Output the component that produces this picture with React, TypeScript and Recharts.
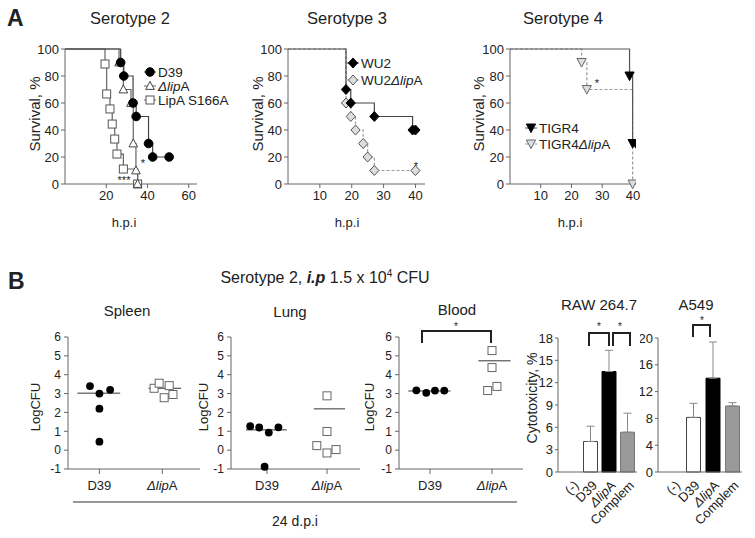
import React from "react";
import {
  LineChart, Line, XAxis, YAxis, ScatterChart, Scatter, ReferenceLine,
  BarChart, Bar, ErrorBar, Cell,
} from "recharts";

const FONT = '"Liberation Sans", Arial, sans-serif';
const AXIS = "#666";
const TXT = "#222";

// ---- A: survival (h.p.i, %) ----
const d39Time = [0, 27, 28.5, 33, 34.5, 40.5, 42.5, 50.5];
const d39Surv = [100, 90, 80, 60, 50, 30, 20, 20];
const lipTime = [0, 26.2, 28.3, 32, 33.1, 34.4, 35.2];
const lipSurv = [100, 90, 70, 60, 30, 10, 0];
const s166Time = [0, 19.4, 20.2, 21.8, 22.9, 24.1, 25.2, 28.3, 35.2];
const s166Surv = [100, 88.9, 66.7, 55.6, 44.4, 33.3, 22.2, 11.1, 0];

const wu2Time = [0, 18.2, 19.7, 27.1, 39.1, 40];
const wu2Surv = [100, 70, 60, 50, 40, 40];
const wu2LipTime = [0, 18.2, 19.7, 21.2, 23.6, 25, 27.1, 40];
const wu2LipSurv = [100, 60, 50, 40, 30, 20, 10, 10];

const tigrTime = [0, 38.9, 39.9, 40.9];
const tigrSurv = [100, 80, 30, 30];
const tigrLipTime = [0, 23.3, 25, 39.9];
const tigrLipSurv = [100, 90, 70, 0];

const survTicks = [0, 20, 40, 60, 80, 100];

// ---- B: organ burden (LogCFU) ----
const strains = ["D39", "ΔlipA"];
const spleenD39 = [3.4, 3.0, 3.2, 2.2, 0.45];
const spleenLip = [3.28, 3.55, 3.42, 2.78, 2.95];
const lungD39 = [1.27, 1.2, 0.93, 1.21, -0.88];
const lungLip = [2.88, 0.99, 0.24, -0.15, 0.03];
const bloodD39 = [3.17, 3.04, 3.16, 3.16];
const bloodLip = [5.28, 4.38, 3.16, 3.38];
// horizontal jitter of the dots (layout only)
const spleenD39Jit = [-0.15, 0, 0.17, 0, 0];
const spleenLipJit = [-0.13, -0.05, 0.11, 0.03, 0.17];
const lungD39Jit = [-0.28, -0.13, 0.03, 0.19, -0.04];
const lungLipJit = [0, 0, -0.17, 0, 0.15];
const bloodD39Jit = [-0.22, -0.06, 0.08, 0.23];
const bloodLipJit = [0, 0, -0.07, 0.08];
const cfuTicks = [-1, 0, 1, 2, 3, 4, 5, 6];

// ---- B: cytotoxicity (%) ----
const cytoCats = ["(-)", "D39", "ΔlipA", "Complem"];
const rawMean = [0, 4.1, 13.5, 5.35];
const rawErr = [2.85, 2.05, 2.85, 2.55];
const a549Mean = [0, 8.15, 14, 9.85];
const a549Err = [2.4, 2.1, 5.4, 0.5];
const rawTicks = [0, 3, 6, 9, 12, 15, 18];
const a549Ticks = [0, 4, 8, 12, 16, 20];

const series = (t: number[], s: number[]) => t.map((x, i) => ({ t: x, s: s[i] }));
const points = (v: number[], jit: number[], g: number) => v.map((y, i) => ({ x: g + jit[i], y }));
const logMean = (v: number[]) => Math.log10(v.reduce((a, x) => a + Math.pow(10, x), 0) / v.length);
const bars = (m: number[], e: number[]) => cytoCats.map((c, i) => ({ c, v: m[i], e: [0, e[i]] }));

function StrainText({ label }: { label: string }) {
  if (!label.includes("lip")) return <>{label}</>;
  const [pre, post] = label.split("Δlip");
  return (
    <>
      {pre}
      <tspan fontStyle="italic">Δlip</tspan>
      {post}
    </>
  );
}

function Mark({ kind, cx, cy, fill, stroke }: any) {
  const p = { fill, stroke, strokeWidth: 1 };
  if (kind === "circle") return <circle cx={cx} cy={cy} r={4.3} {...p} />;
  if (kind === "tri") return <path d={`M${cx},${cy - 4.6}L${cx + 4.3},${cy + 3.4}L${cx - 4.3},${cy + 3.4}Z`} {...p} />;
  if (kind === "square") return <rect x={cx - 4} y={cy - 4} width={8} height={8} {...p} />;
  if (kind === "diamond") return <path d={`M${cx},${cy - 5}L${cx + 4.6},${cy}L${cx},${cy + 5}L${cx - 4.6},${cy}Z`} {...p} />;
  return <path d={`M${cx - 4.6},${cy - 4}L${cx + 4.6},${cy - 4}L${cx},${cy + 4.6}Z`} {...p} />;
}

type Curve = { data: { t: number; s: number }[]; color: string; dash?: string; kind: string; fill: string; stroke: string };

function Survival({ left, top, width, margin, domain, ticks, curves }: any) {
  return (
    <div style={{ position: "absolute", left, top }}>
      <LineChart width={width} height={200} margin={margin}>
        <XAxis type="number" dataKey="t" domain={domain} ticks={ticks} allowDataOverflow interval={0}
          stroke={AXIS} tickSize={4} tickMargin={3} height={30}
          tick={{ fill: TXT, fontSize: 13, fontFamily: FONT }} />
        <YAxis type="number" domain={[0, 100]} ticks={survTicks} width={40} interval={0}
          stroke={AXIS} tickSize={4} tickMargin={2}
          tick={{ fill: TXT, fontSize: 13, fontFamily: FONT }} />
        {curves.map((c: Curve, k: number) => (
          <Line key={k} data={c.data} dataKey="s" type="stepAfter" stroke={c.color}
            strokeWidth={1.2} strokeDasharray={c.dash} isAnimationActive={false} activeDot={false}
            dot={(p: any) =>
              p.index === 0 ? <g key={`d${p.index}`} /> :
                <Mark key={`d${p.index}`} kind={c.kind} cx={p.cx} cy={p.cy} fill={c.fill} stroke={c.stroke} />} />
        ))}
      </LineChart>
    </div>
  );
}

function StrainTick({ x, y, payload }: any) {
  return (
    <text x={x} y={y + 14} textAnchor="middle" fontSize={13} fontFamily={FONT} fill={TXT}>
      <StrainText label={strains[payload.value - 1]} />
    </text>
  );
}

function Organ({ left, width, ml, mr, domain, d39, lip, d39Jit, lipJit }: any) {
  const m1 = logMean(d39);
  const m2 = logMean(lip);
  return (
    <div style={{ position: "absolute", left, top: 320 }}>
      <ScatterChart width={width} height={180} margin={{ top: 17, right: mr, bottom: 1, left: ml }}>
        <XAxis type="number" dataKey="x" domain={domain} ticks={[1, 2]} allowDataOverflow interval={0}
          stroke={AXIS} tickSize={5} height={30} tick={<StrainTick />} />
        <YAxis type="number" dataKey="y" domain={[-1, 6]} ticks={cfuTicks} width={30} interval={0}
          stroke={AXIS} tickSize={4} tickMargin={3}
          tick={{ fill: TXT, fontSize: 12, fontFamily: FONT }} />
        <ReferenceLine segment={[{ x: 0.65, y: m1 }, { x: 1.33, y: m1 }]} stroke="#333" />
        <ReferenceLine segment={[{ x: 1.78, y: m2 }, { x: 2.3, y: m2 }]} stroke="#333" />
        <Scatter data={points(d39, d39Jit, 1)} isAnimationActive={false}
          shape={(p: any) => <circle cx={p.cx} cy={p.cy} r={3.9} fill="#000" />} />
        <Scatter data={points(lip, lipJit, 2)} isAnimationActive={false}
          shape={(p: any) => <rect x={p.cx - 4} y={p.cy - 4} width={8} height={8} fill="#fff" stroke="#666" />} />
      </ScatterChart>
    </div>
  );
}

function CatTick({ x, y, payload }: any) {
  return (
    <g transform={`translate(${x + 4},${y + 3})`}>
      <text transform="rotate(-45)" textAnchor="end" dy="0.35em" fontSize={13} fontFamily={FONT} fill={TXT}>
        <StrainText label={payload.value} />
      </text>
    </g>
  );
}

const barFill = ["#fff", "#fff", "#000", "#999"];
const barStroke = ["#444", "#444", "#000", "#777"];

function Cyto({ left, width, ml, yw, padLeft, mean, err, max, ticks }: any) {
  return (
    <div style={{ position: "absolute", left, top: 320 }}>
      <BarChart width={width} height={218} data={bars(mean, err)} barSize={14}
        margin={{ top: 18, right: 8, bottom: 16, left: ml }}>
        <XAxis dataKey="c" stroke={AXIS} tickLine={false} height={50} interval={0}
          padding={{ left: padLeft, right: 0 }} tick={<CatTick />} />
        <YAxis domain={[0, max]} ticks={ticks} width={yw} stroke={AXIS} tickSize={3} tickMargin={2} interval={0}
          tick={{ fill: TXT, fontSize: 13, fontFamily: FONT }} />
        <Bar dataKey="v" isAnimationActive={false}>
          {cytoCats.map((c, i) => <Cell key={c} fill={barFill[i]} stroke={barStroke[i]} />)}
          <ErrorBar dataKey="e" width={4} stroke="#888" strokeWidth={1} />
        </Bar>
      </BarChart>
    </div>
  );
}

function LegendRow({ x, y, kind, fill, stroke, line, dash, label }: any) {
  return (
    <g>
      <line x1={x - 6} x2={x + 6} y1={y} y2={y} stroke={line} strokeDasharray={dash} />
      <Mark kind={kind} cx={x} cy={y} fill={fill} stroke={stroke} />
      <text x={x + 8} y={y} dy="0.35em" fontSize={13.5} fontFamily={FONT} fill={TXT}>
        <StrainText label={label} />
      </text>
    </g>
  );
}

const bracket = (x1: number, x2: number, yTop: number, yBot: number) =>
  `M${x1},${yBot}V${yTop}H${x2}V${yBot}`;

export default function App() {
  const t = { fontFamily: FONT, fill: TXT };
  return (
    <div style={{ position: "absolute", left: 0, top: 0, width: 755, height: 538, background: "#fff", fontFamily: FONT }}>
      <Survival left={0} top={30} width={230} margin={{ top: 19, right: 33, bottom: 16, left: 25 }}
        domain={[0, 64]} ticks={[20, 40, 60]}
        curves={[
          { data: series(s166Time, s166Surv), color: "#666", kind: "square", fill: "#fff", stroke: "#555" },
          { data: series(lipTime, lipSurv), color: "#666", kind: "tri", fill: "#fff", stroke: "#444" },
          { data: series(d39Time, d39Surv), color: "#444", kind: "circle", fill: "#000", stroke: "#000" },
        ]} />
      <Survival left={240} top={30} width={200} margin={{ top: 19, right: 15, bottom: 16, left: 8 }}
        domain={[0, 43]} ticks={[10, 20, 30, 40]}
        curves={[
          { data: series(wu2LipTime, wu2LipSurv), color: "#999", dash: "3 2", kind: "diamond", fill: "#ddd", stroke: "#555" },
          { data: series(wu2Time, wu2Surv), color: "#444", kind: "diamond", fill: "#000", stroke: "#000" },
        ]} />
      <Survival left={460} top={30} width={200} margin={{ top: 19, right: 24, bottom: 16, left: 10 }}
        domain={[0, 41]} ticks={[10, 20, 30, 40]}
        curves={[
          { data: series(tigrLipTime, tigrLipSurv), color: "#999", dash: "3 2", kind: "down", fill: "#ddd", stroke: "#666" },
          { data: series(tigrTime, tigrSurv), color: "#555", kind: "down", fill: "#000", stroke: "#000" },
        ]} />

      <Organ left={20} width={190} ml={18} mr={10} domain={[0.5, 2.6]}
        d39={spleenD39} lip={spleenLip} d39Jit={spleenD39Jit} lipJit={spleenLipJit} />
      <Organ left={190} width={180} ml={11} mr={10} domain={[0.4, 2.55]}
        d39={lungD39} lip={lungLip} d39Jit={lungD39Jit} lipJit={lungLipJit} />
      <Organ left={360} width={175} ml={9} mr={12} domain={[0.5, 2.5]}
        d39={bloodD39} lip={bloodLip} d39Jit={bloodD39Jit} lipJit={bloodLipJit} />

      <Cyto left={530} width={115} ml={8} yw={20} padLeft={5} mean={rawMean} err={rawErr} max={18} ticks={rawTicks} />
      <Cyto left={640} width={110} ml={0} yw={18} padLeft={6} mean={a549Mean} err={a549Err} max={20} ticks={a549Ticks} />

      <svg width={755} height={538} style={{ position: "absolute", left: 0, top: 0, pointerEvents: "none" }}>
        <text x={7} y={26} fontSize={23} fontWeight="bold" {...t}>A</text>
        <text x={8} y={289} fontSize={23} fontWeight="bold" {...t}>B</text>

        <text x={130} y={24} fontSize={16.5} textAnchor="middle" {...t}>Serotype 2</text>
        <text x={347} y={24} fontSize={16.5} textAnchor="middle" {...t}>Serotype 3</text>
        <text x={563} y={24} fontSize={16.5} textAnchor="middle" {...t}>Serotype 4</text>
        {[35, 258, 479].map((x) => (
          <text key={x} transform={`translate(${x},114) rotate(-90)`} textAnchor="middle" dy="0.35em" fontSize={15} {...t}>Survival, %</text>
        ))}
        {[124, 347, 570].map((x) => (
          <text key={x} x={x} y={222} textAnchor="middle" dy="0.35em" fontSize={13} {...t}>h.p.i</text>
        ))}

        <LegendRow x={150} y={72} kind="circle" fill="#000" stroke="#000" line="#444" label="D39" />
        <LegendRow x={150} y={86} kind="tri" fill="#fff" stroke="#444" line="#666" label="ΔlipA" />
        <LegendRow x={150} y={100} kind="square" fill="#fff" stroke="#555" line="#666" label="LipA S166A" />
        <LegendRow x={353} y={63} kind="diamond" fill="#000" stroke="#000" line="#444" label="WU2" />
        <LegendRow x={353} y={80} kind="diamond" fill="#ddd" stroke="#555" line="#999" dash="3 2" label="WU2ΔlipA" />
        <LegendRow x={531} y={128} kind="down" fill="#000" stroke="#000" line="#555" label="TIGR4" />
        <LegendRow x={531} y={144} kind="down" fill="#ddd" stroke="#666" line="#999" dash="3 2" label="TIGR4ΔlipA" />

        <text x={143} y={167} textAnchor="middle" fontSize={11} {...t}>*</text>
        <text x={124} y={184} textAnchor="middle" fontSize={11} {...t}>***</text>
        <text x={416} y={170} textAnchor="middle" fontSize={11} {...t}>*</text>
        <text x={597} y={87} textAnchor="middle" fontSize={11} {...t}>*</text>

        <text x={325} y={277} textAnchor="middle" dy="0.35em" fontSize={16} {...t}>
          Serotype 2, <tspan fontWeight="bold" fontStyle="italic">i.p</tspan> 1.5 x 10
          <tspan dy={-6} fontSize={10}>4</tspan>
          <tspan dy={6}> CFU</tspan>
        </text>
        <text x={127} y={311} textAnchor="middle" dy="0.35em" fontSize={15} {...t}>Spleen</text>
        <text x={290} y={312} textAnchor="middle" dy="0.35em" fontSize={15} {...t}>Lung</text>
        <text x={457} y={310} textAnchor="middle" dy="0.35em" fontSize={15} {...t}>Blood</text>
        {[35, 203, 369].map((x) => (
          <text key={x} transform={`translate(${x},407) rotate(-90)`} textAnchor="middle" dy="0.35em" fontSize={13} {...t}>LogCFU</text>
        ))}
        <path d={bracket(422, 491, 331, 343)} fill="none" stroke="#222" strokeWidth={2} />
        <text x={456} y={330} textAnchor="middle" fontSize={10} {...t}>*</text>
        <line x1={73} x2={517} y1={502} y2={502} stroke="#333" strokeWidth={1.2} />
        <text x={295} y={521} textAnchor="middle" dy="0.35em" fontSize={14} {...t}>24 d.p.i</text>

        <text x={599} y={305} textAnchor="middle" dy="0.35em" fontSize={15} {...t}>RAW 264.7</text>
        <text x={696} y={305} textAnchor="middle" dy="0.35em" fontSize={15} {...t}>A549</text>
        <text transform="translate(532,398) rotate(-90)" textAnchor="middle" dy="0.35em" fontSize={14} {...t}>Cytotoxicity, %</text>
        <path d={bracket(589, 609, 333, 346)} fill="none" stroke="#222" strokeWidth={2} />
        <path d={bracket(613, 630, 333, 346)} fill="none" stroke="#222" strokeWidth={2} />
        <path d={bracket(693, 710, 325, 337)} fill="none" stroke="#222" strokeWidth={2} />
        <text x={599} y={330} textAnchor="middle" fontSize={10} {...t}>*</text>
        <text x={620} y={330} textAnchor="middle" fontSize={10} {...t}>*</text>
        <text x={702} y={324} textAnchor="middle" fontSize={10} {...t}>*</text>
      </svg>
    </div>
  );
}
